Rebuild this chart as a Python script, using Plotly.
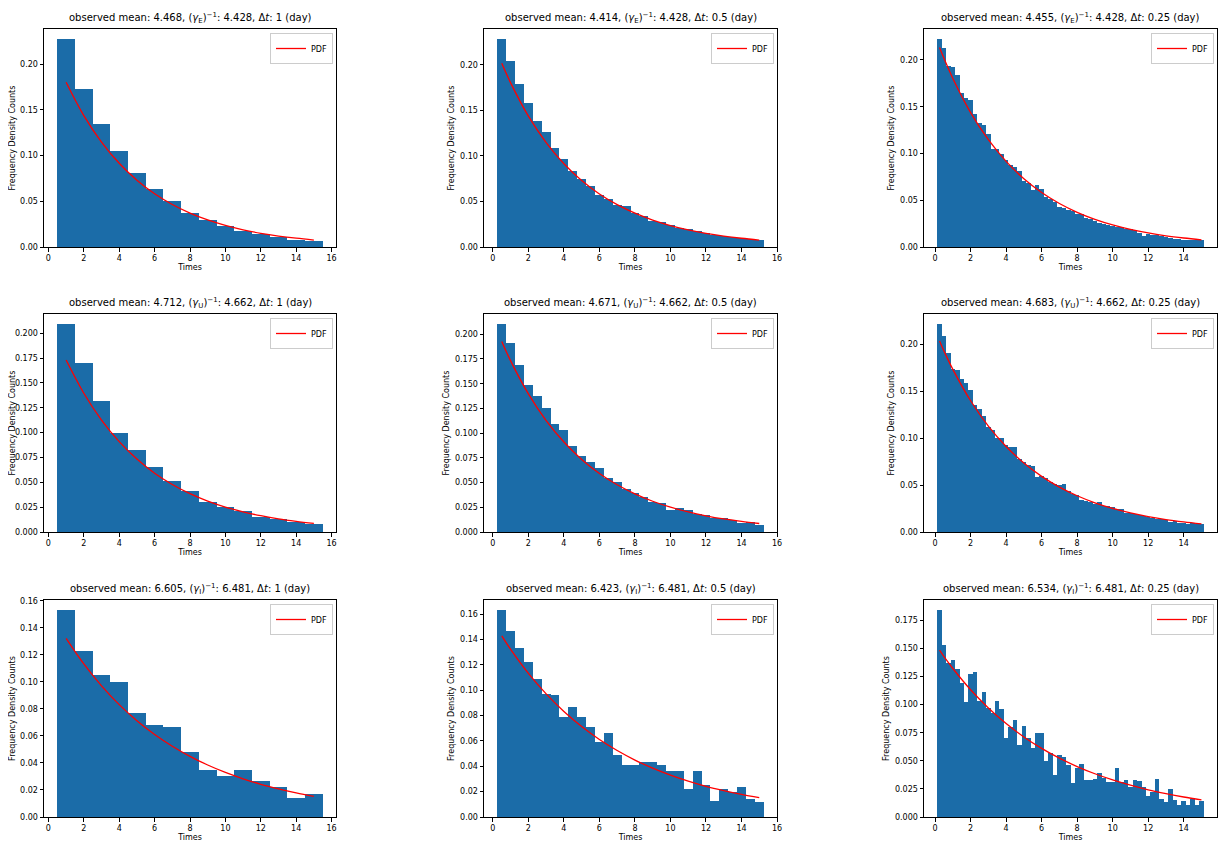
import plotly.graph_objects as go

# the page body keeps the browser's 8px margin, so the figure is drawn
# 8px in from the window edge; size it to fit inside the 1231x854 window
PAGE_W, PAGE_H = 1231, 854
OFF = 8
W, H = PAGE_W - 2 * OFF, PAGE_H - 2 * OFF

# bin widths (days) for the three columns
DT = [1, 0.5, 0.25]
ROW_KEYS = ["E", "U", "I"]

OBS_MEAN = {
    "E": ["4.468", "4.414", "4.455"],
    "U": ["4.712", "4.671", "4.683"],
    "I": ["6.605", "6.423", "6.534"],
}
THEORY_MEAN = {"E": "4.428", "U": "4.662", "I": "6.481"}

# histogram densities (first bin centred on dt)
E_1 = [0.227, 0.173, 0.134, 0.105, 0.081, 0.063, 0.050, 0.037, 0.030, 0.023,
       0.018, 0.014, 0.011, 0.008, 0.007]
E_05 = [0.228, 0.204, 0.179, 0.158, 0.138, 0.126, 0.109, 0.097, 0.084, 0.075,
        0.067, 0.057, 0.053, 0.046, 0.045, 0.037, 0.034, 0.029, 0.027, 0.024,
        0.021, 0.020, 0.018, 0.015, 0.013, 0.012, 0.011, 0.010, 0.009, 0.008]
E_025 = [0.222, 0.213, 0.194, 0.193, 0.184, 0.165, 0.159, 0.157, 0.142, 0.133,
         0.130, 0.121, 0.105, 0.105, 0.099, 0.093, 0.088, 0.086, 0.081, 0.071,
         0.068, 0.061, 0.066, 0.062, 0.054, 0.051, 0.048, 0.043, 0.042, 0.040,
         0.039, 0.035, 0.035, 0.031, 0.030, 0.028, 0.026, 0.025, 0.024, 0.022,
         0.021, 0.021, 0.019, 0.019, 0.018, 0.015, 0.012, 0.014, 0.013, 0.013,
         0.012, 0.011, 0.010, 0.009, 0.009, 0.008, 0.008, 0.008, 0.008, 0.007]

U_1 = [0.209, 0.170, 0.132, 0.100, 0.083, 0.065, 0.051, 0.041, 0.030, 0.025,
       0.021, 0.015, 0.013, 0.010, 0.008]
U_05 = [0.210, 0.191, 0.169, 0.149, 0.138, 0.125, 0.109, 0.103, 0.087, 0.077,
        0.071, 0.065, 0.055, 0.051, 0.044, 0.039, 0.035, 0.030, 0.029, 0.022,
        0.024, 0.022, 0.018, 0.017, 0.014, 0.014, 0.012, 0.009, 0.010, 0.007]
U_025 = [0.221, 0.209, 0.191, 0.173, 0.172, 0.163, 0.159, 0.151, 0.135, 0.131,
         0.124, 0.112, 0.109, 0.100, 0.100, 0.093, 0.090, 0.090, 0.078, 0.074,
         0.071, 0.070, 0.059, 0.060, 0.057, 0.053, 0.051, 0.050, 0.051, 0.044,
         0.040, 0.039, 0.034, 0.033, 0.032, 0.030, 0.032, 0.028, 0.028, 0.027,
         0.024, 0.025, 0.020, 0.020, 0.019, 0.018, 0.017, 0.016, 0.015, 0.014,
         0.014, 0.013, 0.011, 0.012, 0.010, 0.010, 0.009, 0.010, 0.009, 0.008]

I_1 = [0.153, 0.123, 0.105, 0.100, 0.077, 0.068, 0.067, 0.048, 0.035, 0.030,
       0.035, 0.027, 0.022, 0.014, 0.017]
I_05 = [0.163, 0.147, 0.133, 0.122, 0.109, 0.097, 0.096, 0.079, 0.087, 0.079,
        0.071, 0.059, 0.066, 0.049, 0.041, 0.041, 0.043, 0.043, 0.041, 0.036,
        0.036, 0.022, 0.036, 0.025, 0.013, 0.022, 0.020, 0.024, 0.014, 0.012]
I_025 = [0.184, 0.153, 0.137, 0.140, 0.132, 0.119, 0.102, 0.127, 0.129, 0.103,
         0.111, 0.097, 0.093, 0.103, 0.096, 0.070, 0.080, 0.086, 0.064, 0.081,
         0.070, 0.061, 0.075, 0.075, 0.050, 0.057, 0.037, 0.055, 0.053, 0.046,
         0.030, 0.044, 0.047, 0.033, 0.033, 0.034, 0.039, 0.035, 0.031, 0.031,
         0.044, 0.031, 0.033, 0.027, 0.033, 0.032, 0.027, 0.019, 0.022, 0.034,
         0.016, 0.013, 0.025, 0.015, 0.011, 0.014, 0.011, 0.016, 0.011, 0.014]

HIST = {
    "E": [E_1, E_05, E_025],
    "U": [U_1, U_05, U_025],
    "I": [I_1, I_05, I_025],
}

# exponential PDF curve
PDF_T = [0.25, 0.5, 1, 2, 3, 4, 5, 6, 7, 8, 9, 10, 11, 12, 13, 14, 15]
PDF_E = [0.2134, 0.2017, 0.1802, 0.1437, 0.1147, 0.0915, 0.0730, 0.0582, 0.0465,
         0.0371, 0.0296, 0.0236, 0.0188, 0.0150, 0.0120, 0.0096, 0.0076]
PDF_U = [0.2033, 0.1927, 0.1731, 0.1397, 0.1127, 0.0910, 0.0734, 0.0592, 0.0478,
         0.0386, 0.0311, 0.0251, 0.0203, 0.0164, 0.0132, 0.0107, 0.0086]
PDF_I = [0.1485, 0.1428, 0.1322, 0.1133, 0.0971, 0.0832, 0.0713, 0.0611, 0.0524,
         0.0449, 0.0385, 0.0330, 0.0283, 0.0242, 0.0208, 0.0178, 0.0152]
PDF = {"E": PDF_E, "U": PDF_U, "I": PDF_I}

# y tick step / format per panel
Y_TICKS = {
    "E": [(0.05, ".2f"), (0.05, ".2f"), (0.05, ".2f")],
    "U": [(0.025, ".3f"), (0.025, ".3f"), (0.05, ".2f")],
    "I": [(0.02, ".2f"), (0.02, ".2f"), (0.025, ".3f")],
}

# axes boxes in window pixels
COL_PX = [(44, 336), (484, 777), (924, 1217)]
ROW_PX = [(29, 247), (314, 532), (600, 817)]

BAR_COLOR = "#1b6ca8"
FONT = "DejaVu Sans"


def px_x(p):
    return (p - OFF) / W


def px_y(p):
    return 1 - (p - OFF) / H


fig = go.Figure()
layout = dict(
    width=W,
    height=H,
    margin=dict(l=0, r=0, t=0, b=0, autoexpand=False),
    paper_bgcolor="white",
    plot_bgcolor="white",
    font=dict(family=FONT, size=8, color="black"),
    barmode="overlay",
    bargap=0,
    annotations=[],
)

n = 0
for r, key in enumerate(ROW_KEYS):
    for c, dt in enumerate(DT):
        n += 1
        sfx = "" if n == 1 else str(n)
        xa, ya = f"x{sfx}", f"y{sfx}"
        leg = f"legend{sfx}"

        vals = HIST[key][c]
        centers = [dt * (k + 1) for k in range(len(vals))]
        fig.add_trace(go.Bar(
            x=centers, y=vals, width=dt,
            marker=dict(color=BAR_COLOR, line=dict(width=0)),
            xaxis=xa, yaxis=ya, showlegend=False, hoverinfo="skip",
        ))

        t = [p for p in PDF_T if p >= dt]
        f = [v for p, v in zip(PDF_T, PDF[key]) if p >= dt]
        fig.add_trace(go.Scatter(
            x=t, y=f, mode="lines", name="PDF",
            line=dict(color="red", width=1.3, shape="spline"),
            xaxis=xa, yaxis=ya, legend=leg,
        ))

        x0, x1 = COL_PX[c]
        y0, y1 = ROW_PX[r]
        lo = centers[0] - dt / 2
        hi = centers[-1] + dt / 2
        pad = (hi - lo) * 0.05
        step, fmt = Y_TICKS[key][c]

        axis_common = dict(
            showline=True, mirror=True, linecolor="black", linewidth=1,
            ticks="outside", ticklen=3.5, tickwidth=1, tickcolor="black",
            showgrid=False, zeroline=False,
            tickfont=dict(family=FONT, size=8, color="black"),
        )
        layout[f"xaxis{sfx}"] = dict(
            axis_common,
            domain=[px_x(x0), px_x(x1)], anchor=ya,
            range=[lo - pad, hi + pad], tick0=0, dtick=2,
            title=dict(text="Times", font=dict(size=8), standoff=2),
        )
        layout[f"yaxis{sfx}"] = dict(
            axis_common,
            domain=[px_y(y1), px_y(y0)], anchor=xa,
            range=[0, max(vals) * 1.05], tick0=0, dtick=step, tickformat=fmt,
            title=dict(text="Frequency Density Counts", font=dict(size=8), standoff=4),
        )
        layout[leg] = dict(
            x=px_x(x1 - 3), y=px_y(y0 + 4), xanchor="right", yanchor="top",
            bgcolor="white", bordercolor="#cccccc", borderwidth=1,
            font=dict(size=8), itemwidth=30, tracegroupgap=0,
        )

        dt_txt = f"{dt:g}"
        title = (f"observed mean: {OBS_MEAN[key][c]}, "
                 f"(<i>γ</i><sub>{key}</sub>)<sup>−1</sup>: {THEORY_MEAN[key]}, "
                 f"Δ<i>t</i>: {dt_txt} (day)")
        layout["annotations"].append(dict(
            text=title, xref="paper", yref="paper",
            x=px_x((x0 + x1) / 2), y=px_y(y0), xanchor="center", yanchor="bottom",
            yshift=2, showarrow=False, font=dict(family=FONT, size=10, color="black"),
        ))

fig.update_layout(layout)
fig.write_html("out.html")
